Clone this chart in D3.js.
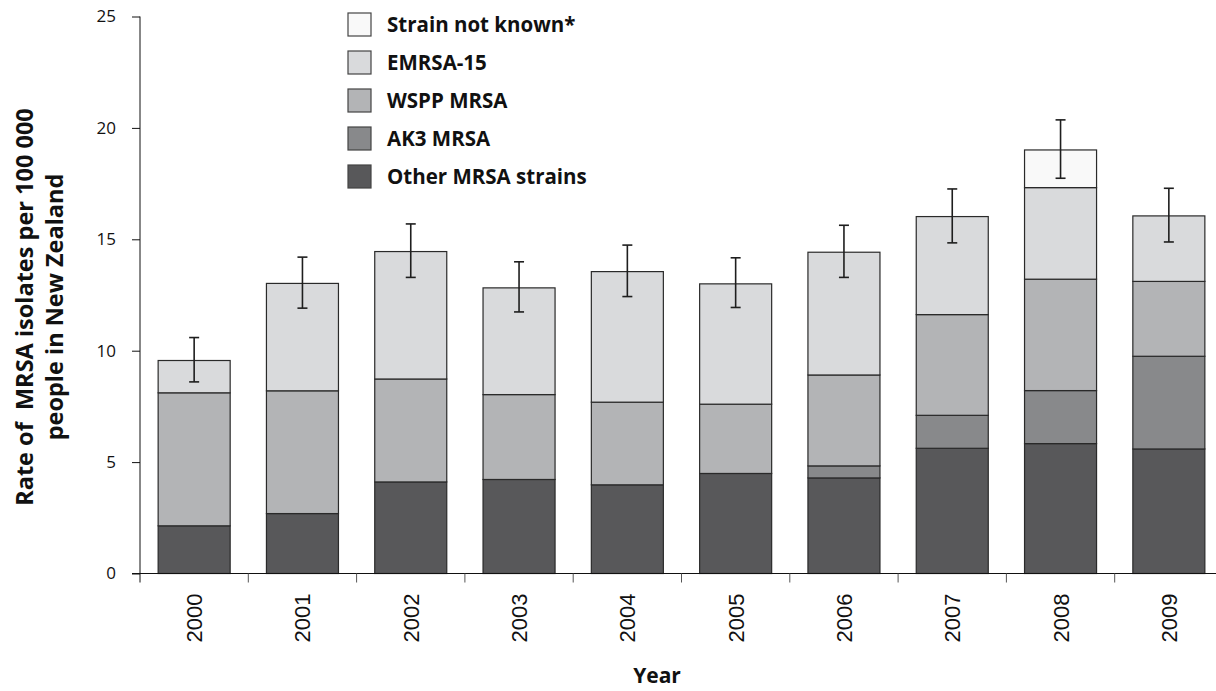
<!DOCTYPE html>
<html>
<head>
<meta charset="utf-8">
<title>MRSA isolates in New Zealand</title>
<script src="https://d3js.org/d3.v7.min.js"></script>
<style>
  body { margin: 0; background: #fff; }
  svg { display: block; }
</style>
</head>
<body>
<script>
// data
const years = ["2000", "2001", "2002", "2003", "2004", "2005", "2006", "2007", "2008", "2009"];
const otherStrains = [2.14, 2.69, 4.11, 4.22, 3.98, 4.49, 4.29, 5.62, 5.83, 5.59];
const ak3 = [0, 0, 0, 0, 0, 0, 0.54, 1.48, 2.38, 4.16];
const wspp = [5.97, 5.51, 4.62, 3.81, 3.71, 3.11, 4.08, 4.52, 5.00, 3.36];
const emrsa15 = [1.45, 4.82, 5.72, 4.79, 5.86, 5.40, 5.51, 4.40, 4.11, 2.94];
const strainUnknown = [0, 0, 0, 0, 0, 0, 0, 0, 1.69, 0];
const errLow = [8.60, 11.91, 13.29, 11.74, 12.43, 11.94, 13.29, 14.84, 17.74, 14.88];
const errHigh = [10.59, 14.20, 15.69, 13.99, 14.74, 14.17, 15.63, 17.26, 20.36, 17.29];
const yTicks = [0, 5, 10, 15, 20, 25];

const seriesNames = ["Other MRSA strains", "AK3 MRSA", "WSPP MRSA", "EMRSA-15", "Strain not known*"];
const seriesColors = ["#58585a", "#88898b", "#b3b4b6", "#d9dadc", "#f9f9f9"];

const w = 1216, h = 691;

const rows = years.map((y, i) => ({
  year: y,
  "Other MRSA strains": otherStrains[i],
  "AK3 MRSA": ak3[i],
  "WSPP MRSA": wspp[i],
  "EMRSA-15": emrsa15[i],
  "Strain not known*": strainUnknown[i],
  lo: errLow[i],
  hi: errHigh[i]
}));

const svg = d3.select("body").append("svg")
  .attr("width", w)
  .attr("height", h);

const x = d3.scaleBand()
  .domain(years)
  .range([140, 1223])
  .paddingInner(0.335)
  .paddingOuter(0.1675);

const y = d3.scaleLinear()
  .domain([0, 25])
  .range([573.5, 16.5]);

const stack = d3.stack().keys(seriesNames);
const layers = stack(rows);

// bars
svg.append("g").selectAll("g")
  .data(layers)
  .join("g")
  .attr("fill", (d, i) => seriesColors[i])
  .selectAll("rect")
  .data(d => d.filter(p => p[1] - p[0] > 0))
  .join("rect")
  .attr("x", d => x(d.data.year))
  .attr("y", d => y(d[1]))
  .attr("width", x.bandwidth())
  .attr("height", d => y(d[0]) - y(d[1]))
  .attr("stroke", "#2a2a2a")
  .attr("stroke-width", 1.2);

// error bars
const eb = svg.append("g")
  .attr("stroke", "#1e1e1e")
  .attr("stroke-width", 1.6);
const cx = d => x(d.year) + x.bandwidth() / 2;
eb.selectAll(".stem").data(rows).join("line")
  .attr("x1", cx).attr("x2", cx)
  .attr("y1", d => y(d.lo)).attr("y2", d => y(d.hi));
eb.selectAll(".capHi").data(rows).join("line")
  .attr("x1", d => cx(d) - 5).attr("x2", d => cx(d) + 5)
  .attr("y1", d => y(d.hi)).attr("y2", d => y(d.hi));
eb.selectAll(".capLo").data(rows).join("line")
  .attr("x1", d => cx(d) - 5).attr("x2", d => cx(d) + 5)
  .attr("y1", d => y(d.lo)).attr("y2", d => y(d.lo));

// y axis
const yAxis = svg.append("g")
  .attr("transform", "translate(140,0)")
  .call(d3.axisLeft(y).tickValues(yTicks).tickSize(8).tickPadding(16));
yAxis.select(".domain").attr("d", "M0," + y(25) + "V" + (y(0) + 9));
yAxis.selectAll("text")
  .style("font-family", "'Open Sans', sans-serif")
  .style("font-size", "17px")
  .attr("fill", "#111");
yAxis.selectAll("line").attr("stroke", "#111");
yAxis.select(".domain").attr("stroke", "#111");

// x axis line and category separator ticks
svg.append("line")
  .attr("x1", 132).attr("x2", w)
  .attr("y1", y(0)).attr("y2", y(0))
  .attr("stroke", "#111");
svg.append("g").selectAll("line")
  .data(years.slice(1))
  .join("line")
  .attr("x1", d => x(d) - x.step() * x.paddingInner() / 2)
  .attr("x2", d => x(d) - x.step() * x.paddingInner() / 2)
  .attr("y1", y(0)).attr("y2", y(0) + 9)
  .attr("stroke", "#555");

// x tick labels (rotated)
svg.append("g").selectAll("text")
  .data(years)
  .join("text")
  .attr("transform", d => "translate(" + (x(d) + x.bandwidth() / 2 + 8) + "," + (y(0) + 20) + ") rotate(-90)")
  .attr("text-anchor", "end")
  .style("font-family", "'Liberation Sans', Arial, sans-serif")
  .style("font-size", "22px")
  .attr("fill", "#111")
  .text(d => d);

// axis titles
svg.append("text")
  .attr("x", 657).attr("y", 683)
  .attr("text-anchor", "middle")
  .style("font-family", "'Open Sans', sans-serif")
  .style("font-weight", "bold")
  .style("font-size", "21px")
  .attr("fill", "#111")
  .text("Year");

const yt = svg.append("text")
  .attr("transform", "translate(0,307) rotate(-90)")
  .attr("text-anchor", "middle")
  .style("font-family", "'Open Sans', sans-serif")
  .style("font-weight", "bold")
  .style("font-size", "23.5px")
  .attr("fill", "#111");
yt.append("tspan").attr("x", 0).attr("y", 33).attr("xml:space", "preserve").text("Rate of  MRSA isolates per 100 000");
yt.append("tspan").attr("x", 0).attr("y", 63).text("people in New Zealand");

// legend
const legendOrder = seriesNames.slice().reverse();
const legend = svg.append("g").selectAll("g")
  .data(legendOrder)
  .join("g")
  .attr("transform", (d, i) => "translate(348," + (13 + i * 38) + ")");
legend.append("rect")
  .attr("width", 23).attr("height", 23)
  .attr("fill", d => seriesColors[seriesNames.indexOf(d)])
  .attr("stroke", "#444")
  .attr("stroke-width", 1.2);
legend.append("text")
  .attr("x", 39).attr("y", 19)
  .style("font-family", "'Open Sans', sans-serif")
  .style("font-weight", "bold")
  .style("font-size", "20.5px")
  .attr("fill", "#111")
  .text(d => d);
</script>
</body>
</html>
